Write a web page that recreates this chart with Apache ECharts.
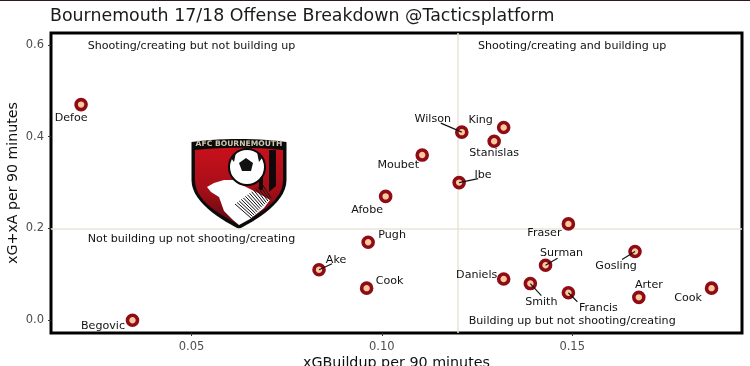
<!DOCTYPE html>
<html><head><meta charset="utf-8">
<style>html,body{margin:0;padding:0;background:#fff}#c{width:750px;height:366px}</style>
<script src="https://cdn.jsdelivr.net/npm/echarts@6/dist/echarts.min.js"></script></head>
<body><div id="c"></div><script>
const players=['Defoe','Begovic','Ake','Pugh','Cook','Afobe','Moubet','Wilson','King','Stanislas','Ibe','Fraser','Surman','Gosling','Daniels','Smith','Francis','Arter','Cook'];
const xgBuildup=[0.021,0.0345,0.0835,0.0964,0.096,0.101,0.1106,0.121,0.132,0.1295,0.1203,0.149,0.143,0.1665,0.132,0.139,0.149,0.1675,0.1866];
const xgXa=[0.47,0,0.11,0.17,0.07,0.27,0.36,0.41,0.42,0.39,0.30,0.21,0.12,0.15,0.09,0.08,0.06,0.05,0.07];
const xTicks=[0.05,0.10,0.15];
const yTicks=[0,0.2,0.4,0.6];
const captions=['Shooting/creating but not building up','Shooting/creating and building up','Not building up not shooting/creating','Building up but not shooting/creating'];
const captionX=[0.05,0.15,0.05,0.15];
const captionY=[0.6,0.6,0.18,0];
const labelDx=[-10,-29.5,17,24,23,-18.5,-24,-29,-23,0,24,-24,16,-19,-27,11,30,10,-23.5];
const labelDy=[14,6,-10,-7,-7,14,10,-13,-7,12,-8,9,-12,15,-4,19,15,-12,10];
const leaderDx=[0,0,13,0,0,0,0,-21,0,0,19,0,12,-13,0,11,9,0,0];
const leaderDy=[0,0,-6,0,0,0,0,-9,0,0,-4,0,-7,8,0,12,9,0,0];
const font='"DejaVu Sans"';
function bez(p0,p1,p2,p3,n=14){const o=[];for(let i=0;i<=n;i++){const t=i/n,u=1-t;o.push([u*u*u*p0[0]+3*u*u*t*p1[0]+3*u*t*t*p2[0]+t*t*t*p3[0],u*u*u*p0[1]+3*u*u*t*p1[1]+3*u*t*t*p2[1]+t*t*t*p3[1]]);}return o;}
function shield(l,r,top,arch,side,tip,cx){
  return [...bez([l,top],[l+(cx-l)*.6,arch],[cx+(r-cx)*.4,arch],[r,top]),
    ...bez([r,side],[r,side+22],[cx+(r-cx)*.4,tip-10],[cx,tip]),
    ...bez([cx,tip],[cx-(cx-l)*.4,tip-10],[l,side+22],[l,side])];
}
const hatch=[];
for(let i=0;i<14;i++){
  const t=i/13;
  hatch.push({type:'line',shape:{x1:235+t*27,y1:204-t*20,x2:251+t*20,y2:218-t*20},style:{stroke:'#111',lineWidth:1}});
}
const logo={type:'group',silent:true,z:1,children:[
 {type:'polygon',shape:{points:shield(191.5,286.5,142,138,180,229,239)},style:{fill:'#0b0b0b'}},
 {type:'polygon',shape:{points:shield(195,283,150,147,180,225,239)},
   style:{fill:{type:'linear',x:0,y:0,x2:0,y2:1,colorStops:[{offset:0,color:'#c8101c'},{offset:.55,color:'#a50e18'},{offset:1,color:'#5c0a10'}]}}},
 {type:'polygon',shape:{points:[[269,150],[276,150],[276,186],[269,192]]},style:{fill:'#120608'}},
 {type:'polygon',shape:{points:[[259,170],[263,170],[263,190],[259,190]]},style:{fill:'#120608'}},
 {type:'polygon',shape:{points:[[207,187],[214,183],[224,180],[234,180],[242,185],[258,193],[270,200],[264,208],[250,219],[239,225],[233,220],[224,211],[219,197],[211,192]]},style:{fill:'#fff'}},
 ...hatch,
 {type:'circle',shape:{cx:247,cy:167,r:18},style:{fill:'#fff',stroke:'#0b0b0b',lineWidth:2}},
 {type:'polygon',shape:{points:[[246,158],[253,163],[251,171],[242,171],[239,163]]},style:{fill:'#111'}},
 {type:'polygon',shape:{points:[[231,158],[236,152],[234,162]]},style:{fill:'#111'}},
 {type:'polygon',shape:{points:[[262,158],[257,152],[259,162]]},style:{fill:'#111'}},
 {type:'text',style:{x:239,y:144.5,text:'AFC BOURNEMOUTH',align:'center',verticalAlign:'middle',font:'bold 7.6px "DejaVu Sans"',fill:'#cfc6b0'}}
]};
const chart=echarts.init(document.getElementById('c'),null,{renderer:'canvas'});
chart.setOption({
 animation:false,backgroundColor:'#fff',
 title:{text:'Bournemouth 17/18 Offense Breakdown @Tacticsplatform',left:50,top:8,padding:0,textStyle:{fontFamily:font,fontSize:17.4,fontWeight:'normal',color:'#1a1a1a'}},
 grid:{left:51,right:8,top:33,bottom:33,outerBoundsMode:'none',show:true,borderColor:'#000',borderWidth:3,backgroundColor:'#fff'},
 xAxis:{type:'value',min:0.0131,max:0.1946,name:'xGBuildup per 90 minutes',nameLocation:'middle',nameGap:23,nameMoveOverlap:false,
   nameTextStyle:{fontFamily:font,fontSize:14.3,color:'#111'},splitLine:{show:false},axisLine:{show:false,onZero:false},
   axisTick:{show:true,length:3,customValues:xTicks,lineStyle:{color:'#333'}},
   axisLabel:{customValues:xTicks,margin:8,fontFamily:font,fontSize:11.5,color:'#4d4d4d',formatter:v=>v.toFixed(2)}},
 yAxis:{type:'value',min:-0.0277,max:0.626,name:'xG+xA per 90 minutes',nameLocation:'middle',nameGap:31,nameMoveOverlap:false,
   nameTextStyle:{fontFamily:font,fontSize:14.2,color:'#111'},splitLine:{show:false},axisLine:{show:false,onZero:false},
   axisTick:{show:true,length:3,customValues:yTicks,lineStyle:{color:'#333'}},
   axisLabel:{customValues:yTicks,margin:7,fontFamily:font,fontSize:11.5,color:'#4d4d4d',formatter:v=>v.toFixed(1)}},
 graphic:[{type:'rect',shape:{x:0,y:0,width:750,height:1},style:{fill:'#2b1a20'},silent:true},logo],
 series:[
  {type:'scatter',data:xgBuildup.map((x,i)=>[x,xgXa[i]]),symbolSize:10,z:3,
   itemStyle:{color:'#f9c99d',borderColor:'#8f0c16',borderWidth:3.6,opacity:1},
   label:{show:true,position:'inside',fontFamily:font,fontSize:11.1,color:'#111',textBorderWidth:0,align:'center',verticalAlign:'middle',
     formatter:p=>players[p.dataIndex]},
   labelLayout:p=>({dx:labelDx[p.dataIndex],dy:labelDy[p.dataIndex]}),
   markLine:{silent:true,symbol:'none',animation:false,label:{show:false},z:2,
     lineStyle:{color:'#e9e5d6',width:1.5,type:'solid'},data:[{xAxis:0.12},{yAxis:0.2}]}},
  {type:'custom',z:4,silent:true,coordinateSystem:'cartesian2d',data:xgBuildup.map((x,i)=>[x,xgXa[i],leaderDx[i],leaderDy[i]]),
   renderItem:(params,api)=>{
     const dx=api.value(2),dy=api.value(3);
     if(!dx&&!dy)return null;
     const p=api.coord([api.value(0),api.value(1)]);
     return {type:'line',shape:{x1:p[0],y1:p[1],x2:p[0]+dx,y2:p[1]+dy},style:{stroke:'#111',lineWidth:1.1}};
   }},
  {type:'scatter',silent:true,z:3,symbolSize:0,itemStyle:{opacity:1},data:captionX.map((x,i)=>[x,captionY[i]]),
   label:{show:true,position:'inside',offset:[0,1],fontFamily:font,fontSize:11.1,color:'#111',textBorderWidth:0,align:'center',verticalAlign:'middle',
     formatter:p=>captions[p.dataIndex]}}
 ]
});
</script></body></html>
